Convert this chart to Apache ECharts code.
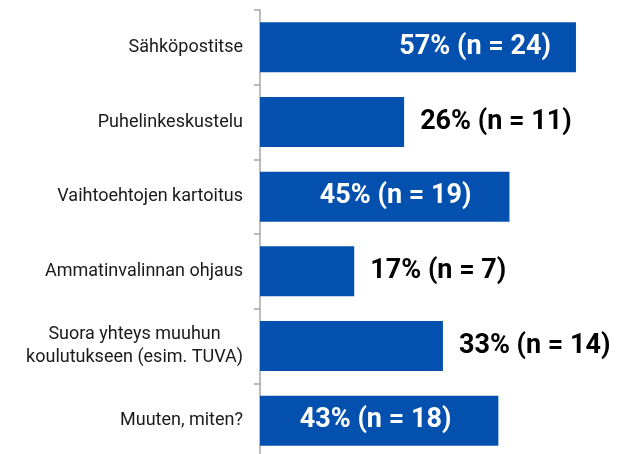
<!DOCTYPE html>
<html>
<head>
<meta charset="utf-8">
<script src="https://cdn.jsdelivr.net/npm/echarts@6/dist/echarts.min.js"></script>
<style>
html,body{margin:0;padding:0;background:#fff;}
#chart{width:630px;height:454px;}
</style>
</head>
<body>
<div id="chart"></div>
<script>
// Data
const categories = [
  'Sähköpostitse',
  'Puhelinkeskustelu',
  'Vaihtoehtojen kartoitus',
  'Ammatinvalinnan ohjaus',
  'Suora yhteys muuhun\nkoulutukseen (esim. TUVA)',
  'Muuten, miten?'
];
const percentValues = [57, 26, 45, 17, 33, 43];
const countValues = [24, 11, 19, 7, 14, 18];

// Label styling (not data)
const labelInside = [true, false, true, false, false, true];
const labelDistance = [25, 16, 38, 16, 16, 47];

const BAR_COLOR = '#0450AE';

const seriesData = percentValues.map((v, i) => ({
  value: v,
  label: labelInside[i]
    ? { position: 'insideRight', distance: labelDistance[i], color: '#ffffff' }
    : { position: 'right', distance: labelDistance[i], color: '#000000' }
}));

const chart = echarts.init(document.getElementById('chart'), null, { renderer: 'canvas' });
chart.setOption({
  animation: false,
  backgroundColor: '#ffffff',
  grid: { left: 260, right: 37.4, top: 10, height: 448, containLabel: false, outerBoundsMode: 'none' },
  xAxis: {
    type: 'value', min: 0, max: 60, show: false
  },
  yAxis: {
    type: 'category',
    inverse: true,
    data: categories,
    axisLine: { show: true, lineStyle: { color: '#A6A6A6', width: 1.5 } },
    axisTick: { show: true, length: 6, lineStyle: { color: '#A6A6A6', width: 1.5 } },
    splitLine: { show: false },
    axisLabel: {
      margin: 17,
      align: 'right',
      formatter: function (v) {
        return v.split('\n').map(l => '{c|' + l + '}').join('\n');
      },
      rich: {
        c: { align: 'center', fontFamily: 'Roboto', fontSize: 18, lineHeight: 23, color: '#1a1a1a' }
      }
    }
  },
  series: [{
    type: 'bar',
    data: seriesData,
    barWidth: 50,
    itemStyle: { color: BAR_COLOR },
    label: {
      show: true,
      fontFamily: 'Roboto',
      fontWeight: 'bold',
      fontSize: 27,
      formatter: function (p) {
        return percentValues[p.dataIndex] + '% (n = ' + countValues[p.dataIndex] + ')';
      }
    }
  }]
});
</script>
</body>
</html>
